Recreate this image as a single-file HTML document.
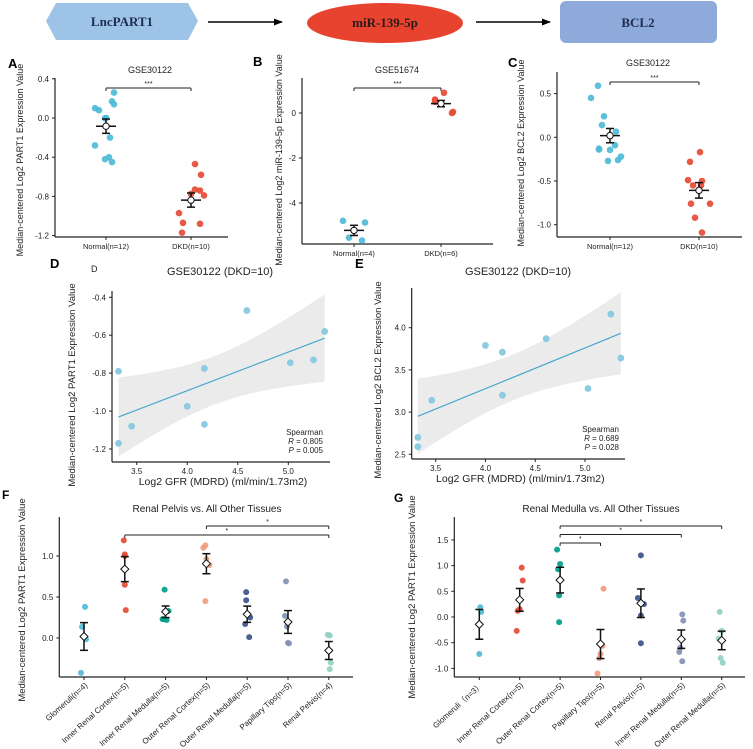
<!DOCTYPE html>
<html><head><meta charset="utf-8">
<style>
html,body{margin:0;padding:0;background:#fff;}
svg{display:block;font-family:"Liberation Sans",sans-serif;}
</style></head>
<body>
<svg id="fig" width="753" height="749" viewBox="0 0 753 749" xmlns="http://www.w3.org/2000/svg">
  <defs>
    <marker id="ah" viewBox="0 0 10 10" refX="9" refY="5" markerWidth="6" markerHeight="6" orient="auto"><path d="M0,1 L10,5 L0,9 z" fill="#000"/></marker>
  </defs>
  <g>
    <polygon points="46,21 56,3 188,3 198,21 188,40 56,40" fill="#9dc3e6"/>
    <text x="122" y="26" text-anchor="middle" font-family="Liberation Serif,serif" font-weight="bold" font-size="13" fill="#1f2d50">LncPART1</text>
    <line x1="208" y1="22" x2="282" y2="22" stroke="#000" stroke-width="1.5" marker-end="url(#ah)"/>
    <ellipse cx="385" cy="23" rx="78" ry="20" fill="#e8432f"/>
    <text x="385" y="27" text-anchor="middle" font-family="Liberation Serif,serif" font-weight="bold" font-size="13" fill="#2a1a1a">miR-139-5p</text>
    <line x1="476" y1="22" x2="550" y2="22" stroke="#000" stroke-width="1.5" marker-end="url(#ah)"/>
    <rect x="560" y="1" width="157" height="42" rx="6" fill="#8eaadb"/>
    <text x="638" y="27" text-anchor="middle" font-family="Liberation Serif,serif" font-weight="bold" font-size="13" fill="#1f2d50">BCL2</text>
  </g>
</svg>
<script>
// ---------- data ----------
const abCats = ["Normal(n=12)", "DKD(n=10)"];
const aNormal = [0.26,0.17,0.14,0.10,0.08,0.0,-0.003,-0.20,-0.28,-0.40,-0.42,-0.45];
const aDKD = [-0.47,-0.58,-0.73,-0.74,-0.79,-0.97,-1.07,-1.08,-1.17,-0.775];
const aJitN = [8,6,8,-11,-7,0,-1,4,-11,3,-1,6];
const aJitD = [4,10,4,9,13,-12,-8,9,-9,0];
const aTicks = [0.4,0.0,-0.4,-0.8,-1.2];

const bCats = ["Normal(n=4)", "DKD(n=6)"];
const bNormal = [-4.79,-4.87,-5.54,-5.67];
const bDKD = [0.9,0.6,0.5,0.45,0.05,0.0];
const bJitN = [-11,11,-5,8];
const bJitD = [3,-6,-6,0,12,11];
const bTicks = [0,-2,-4];

const cCats = ["Normal(n=12)", "DKD(n=10)"];
const cNormal = [0.59,0.45,0.24,0.14,0.065,-0.09,-0.13,-0.14,-0.145,-0.22,-0.26,-0.27];
const cDKD = [-0.17,-0.28,-0.49,-0.50,-0.55,-0.55,-0.76,-0.76,-0.92,-1.09];
const cJitN = [-12,-19,-6,-8,6,5,-11,-11,0,11,8,-2];
const cJitD = [1,-9,-11,3,-6,2,-8,11,-4,3];
const cTicks = [0.5,0.0,-0.5,-1.0];

const dX = [3.32,4.59,5.36,4.17,5.02,5.25,4.00,3.45,4.17,3.32];
const dY = [-0.79,-0.47,-0.58,-0.775,-0.745,-0.73,-0.975,-1.08,-1.07,-1.17];
const dXTicks = [3.5,4.0,4.5,5.0];
const dYTicks = [-0.4,-0.6,-0.8,-1.0,-1.2];

const eX = [3.32,3.32,3.46,4.00,4.17,4.17,4.61,5.03,5.26,5.36];
const eY = [2.70,2.59,3.14,3.79,3.71,3.20,3.87,3.28,4.16,3.64];
const eXTicks = [3.5,4.0,4.5,5.0];
const eYTicks = [4.0,3.5,3.0,2.5];

const fCats = ["Glomeruli(n=4)","Inner Renal Cortex(n=5)","Inner Renal Medulla(n=5)","Outer Renal Cortex(n=5)","Outer Renal Medulla(n=5)","Papillary Tips(n=5)","Renal Pelvis(n=4)"];
const fVals = [[0.38,0.135,-0.016,-0.425],[1.19,0.65,0.34,1.0,1.02],[0.59,0.33,0.23,0.22,0.23],[1.13,1.10,0.96,0.89,0.45],[0.56,0.46,0.25,0.17,0.01],[0.69,0.27,0.14,-0.06,-0.065],[0.04,0.03,-0.30,-0.38]];
const fJit = [[1,-2,2,-3],[-1,0,1,0,0],[-1,3,-2,1,-3],[-1,-3,0,3,-1],[-1,-1,3,-2,2],[-2,-3,-1,0,1],[-1,1,2,1]];
const fColors = ["#4dbbd5","#e64b35","#00a087","#f39b7f","#3c5488","#8491b4","#91d1c2"];
const fTicks = [1.0,0.5,0.0];

const gCats = ["Glomeruli\uff08n=3\uff09","Inner Renal Cortex(n=5)","Outer Renal Cortex(n=5)","Papillary Tips(n=5)","Renal Pelvis(n=5)","Inner Renal Medulla(n=5)","Outer Renal Medulla(n=5)"];
const gVals = [[0.19,0.10,-0.72],[0.96,0.71,0.15,0.12,-0.27],[1.31,1.03,0.93,0.42,-0.10],[0.55,-0.56,-0.72,-0.80,-1.10],[1.20,0.37,0.25,0.03,-0.51],[0.05,-0.07,-0.60,-0.68,-0.86],[0.10,-0.27,-0.42,-0.80,-0.89]];
const gJit = [[1,2,0],[2,3,0,-2,-3],[-3,0,-2,-1,-1],[3,2,0,-1,-3],[0,-3,3,0,0],[1,2,-1,-2,1],[-2,0,-3,-1,1]];
const gColors = ["#4dbbd5","#e64b35","#00a087","#f39b7f","#3c5488","#8491b4","#91d1c2"];
const gTicks = [1.5,1.0,0.5,0.0,-0.5,-1.0];

// ---------- helpers ----------
const svg = document.getElementById('fig');
const NS = 'http://www.w3.org/2000/svg';
function mk(tag, attrs, parent){
  const e = document.createElementNS(NS, tag);
  for (const k in attrs) e.setAttribute(k, attrs[k]);
  (parent||svg).appendChild(e);
  return e;
}
function txt(parent, x, y, s, size, anchor, name, extra){
  const t = mk('text', Object.assign({x:x, y:y, 'font-size':size, 'text-anchor':anchor||'middle', fill:'#222'}, extra||{}), parent);
  t.textContent = s;
  
  
  return t;
}
function line(parent, x1,y1,x2,y2, name, w, col){
  const l = mk('line', {x1:x1,y1:y1,x2:x2,y2:y2,stroke:col||'#222','stroke-width':w||1}, parent);
  
  
  return l;
}
function lin(d0, r0, d1, r1){ const k=(r1-r0)/(d1-d0); return v => r0 + (v-d0)*k; }
function meanSem(a){
  const n=a.length, m=a.reduce((s,v)=>s+v,0)/n;
  const sd=Math.sqrt(a.reduce((s,v)=>s+(v-m)*(v-m),0)/(n-1));
  return [m, sd/Math.sqrt(n)];
}
function panel(name){
  const g = mk('g', {});
  
  
  return g;
}
function yAxis(g, ax, yTop, yBot, ticks, ys, fmt){
  line(g, ax, yTop, ax, yBot, 'y-axis-line', 1.2);
  ticks.forEach(t => {
    line(g, ax-3, ys(t), ax, ys(t), 'y-tick', 1);
    txt(g, ax-6, ys(t)+3, fmt(t), 8, 'end', 'y-tick-label');
  });
}
function yTitle(g, x, y, s, size){
  txt(g, 0, 0, s, size||9, 'middle', 'y-axis-title', {transform:'translate('+x+','+y+') rotate(-90)'});
}
function groupMarks(g, cx, vals, jit, color, ys, diamond, r){
  vals.forEach((v,i) => {
    const c = mk('circle', {cx: cx + jit[i], cy: ys(v), r: r||3.3, fill: color, opacity: 0.92}, g);
    
    
  });
  const ms = meanSem(vals), m = ms[0], se = ms[1];
  line(g, cx, ys(m+se), cx, ys(m-se), 'error-bar', 1.5, '#111');
  line(g, cx-4, ys(m+se), cx+4, ys(m+se), 'error-cap-top', 1.5, '#111');
  line(g, cx-4, ys(m-se), cx+4, ys(m-se), 'error-cap-bottom', 1.5, '#111');
  if (!diamond) line(g, cx-10, ys(m), cx+10, ys(m), 'mean-line', 1.5, '#111');
  let mk2;
  if (diamond) {
    const y = ys(m);
    mk2 = mk('polygon', {points: (cx-4)+','+y+' '+cx+','+(y-4)+' '+(cx+4)+','+y+' '+cx+','+(y+4), fill:'#fff', stroke:'#111', 'stroke-width':1}, g);
  } else {
    mk2 = mk('circle', {cx: cx, cy: ys(m), r: 3.2, fill:'#fff', stroke:'#111', 'stroke-width':1}, g);
  }
  
  
}
function bracket(g, x1, x2, y, label){
  line(g, x1, y, x2, y, 'significance-bracket', 1);
  line(g, x1, y, x1, y+3, 'bracket-tick', 1);
  line(g, x2, y, x2, y+3, 'bracket-tick', 1);
  txt(g, (x1+x2)/2, y-2, label, 7, 'middle', 'significance-label');
}
function fmt1(t){ return t.toFixed(1); }

// ---------- two-group panels A,B,C ----------
function twoGroup(pname, letter, lx, ly, title, tx, ty, ax, axEnd, yTop, yBot, ys, ticks, fmt, cats, xs, g1, j1, g2, j2, brY, ytxt, ytx, yty){
  const g = panel(pname);
  txt(g, lx, ly, letter, 13, 'start', 'panel-label', {'font-weight':'bold', fill:'#000'});
  txt(g, tx, ty, title, 9, 'middle', 'chart-title');
  yAxis(g, ax, yTop, yBot, ticks, ys, fmt);
  line(g, ax, yBot, axEnd, yBot, 'x-axis-line', 1.2);
  cats.forEach((c,i) => {
    line(g, xs[i], yBot, xs[i], yBot+3, 'x-tick', 1);
    txt(g, xs[i], yBot+12, c, 7.5, 'middle', 'x-tick-label');
  });
  yTitle(g, ytx, yty, ytxt, 9);
  groupMarks(g, xs[0], g1, j1, '#4dbbd5', ys, false);
  groupMarks(g, xs[1], g2, j2, '#e64b35', ys, false);
  bracket(g, xs[0], xs[1], brY, '***');
}
twoGroup('panel-a','A',8,68,'GSE30122',150,73,55,228,78,237,lin(0,118,0.4,78.8),aTicks,fmt1,abCats,[106,191],aNormal,aJitN,aDKD,aJitD,88,'Median-centered Log2 PART1 Expression Value',23,160);
twoGroup('panel-b','B',253,66,'GSE51674',397,73,302,493,78,244,lin(0,113,-2,158),bTicks,t=>String(t),bCats,[354,441],bNormal,bJitN,bDKD,bJitD,88,'Median-centered Log2 miR-139-5p Expression Value',282,160);
twoGroup('panel-c','C',508,67,'GSE30122',648,66,557,742,72,237,lin(0,137.3,0.5,93.6),cTicks,fmt1,cCats,[610,699],cNormal,cJitN,cDKD,cJitD,82,'Median-centered Log2 BCL2 Expression Value',524,153);

// ---------- correlation panels D,E ----------
function corr(pname, letter, lx, ly, ax, axEnd, yTop, yBot, xs, ys, xT, yT, xv, yv, yfmt, title, tx, ty, ytxt, ytx, yty, rTxt, pTxt, sx, sy){
  const g = panel(pname);
  txt(g, lx, ly, letter, 13, 'start', 'panel-label', {'font-weight':'bold', fill:'#000'});
  txt(g, tx, ty, title, 11, 'middle', 'chart-title');
  // regression and CI band from data
  const n = xv.length;
  const mx = xv.reduce((s,v)=>s+v,0)/n, my = yv.reduce((s,v)=>s+v,0)/n;
  let sxx=0, sxy=0; xv.forEach((x,i)=>{ sxx+=(x-mx)*(x-mx); sxy+=(x-mx)*(yv[i]-my); });
  const b = sxy/sxx, a = my - b*mx;
  let sse=0; xv.forEach((x,i)=>{ const r=yv[i]-(a+b*x); sse+=r*r; });
  const s = Math.sqrt(sse/(n-2)), tq = 2.306;
  const x0 = Math.min(...xv), x1 = Math.max(...xv);
  const up=[], dn=[];
  for (let k=0;k<=40;k++){
    const x = x0 + (x1-x0)*k/40, yh = a+b*x;
    const w = tq*s*Math.sqrt(1/n + (x-mx)*(x-mx)/sxx);
    up.push(xs(x)+','+ys(yh+w)); dn.unshift(xs(x)+','+ys(yh-w));
  }
  const band = mk('polygon', {points: up.concat(dn).join(' '), fill:'#ebebeb'}, g);
  
  
  const rl = mk('line', {x1:xs(x0), y1:ys(a+b*x0), x2:xs(x1), y2:ys(a+b*x1), stroke:'#4aa8cf', 'stroke-width':1.2}, g);
  
  
  xv.forEach((x,i) => {
    const c = mk('circle', {cx:xs(x), cy:ys(yv[i]), r:3.4, fill:'#8ccbe0'}, g);
    
    
  });
  yAxis(g, ax, yTop, yBot, yT, ys, yfmt);
  line(g, ax, yBot, axEnd, yBot, 'x-axis-line', 1.2);
  xT.forEach(t => {
    line(g, xs(t), yBot, xs(t), yBot+3, 'x-tick', 1);
    txt(g, xs(t), yBot+12, t.toFixed(1), 8, 'middle', 'x-tick-label');
  });
  txt(g, (ax+axEnd)/2+2, yBot+23, 'Log2 GFR (MDRD) (ml/min/1.73m2)', 10.5, 'middle', 'x-axis-title');
  yTitle(g, ytx, yty, ytxt, 9.5);
  txt(g, sx, sy, 'Spearman', 8, 'end', 'stat-method');
  const r = txt(g, sx, sy+9, '', 8, 'end', 'stat-r');
  r.innerHTML = '<tspan font-style="italic">R</tspan> = ' + rTxt;
  const p = txt(g, sx, sy+18, '', 8, 'end', 'stat-p');
  p.innerHTML = '<tspan font-style="italic">P</tspan> = ' + pTxt;
  return g;
}
const gD = corr('panel-d','D',50,268,112,330,291,462,lin(3.5,136.7,5.0,288.3),lin(-0.4,297.3,-1.2,449),dXTicks,dYTicks,dX,dY,fmt1,'GSE30122 (DKD=10)',220,275,'Median-centered Log2 PART1 Expression Value',75,385,'0.805','0.005',323,435);
txt(gD, 91, 272, 'D', 9, 'start', 'panel-sublabel');
corr('panel-e','E',355,268,411.7,625,288,459,lin(3.5,435.7,5.0,585),lin(4.0,327.7,2.5,454.3),eXTicks,eYTicks,eX,eY,fmt1,'GSE30122 (DKD=10)',518,275,'Median-centered Log2 BCL2 Expression Value',381,380,'0.689','0.028',619,432);

// ---------- tissue panels F,G ----------
function tissue(pname, letter, lx, ly, title, tx, ax, axEnd, yTop, yBot, ys, ticks, cats, x0, dx, vals, jit, colors, brs, ytx, yty){
  const g = panel(pname);
  txt(g, lx, ly, letter, 12, 'start', 'panel-label', {'font-weight':'bold', fill:'#000'});
  txt(g, tx, 512, title, 10, 'middle', 'chart-title');
  yAxis(g, ax, yTop, yBot, ticks, ys, fmt1);
  line(g, ax, yBot, axEnd, yBot, 'x-axis-line', 1.2);
  cats.forEach((c,i) => {
    const cx = x0 + dx*i;
    line(g, cx, yBot, cx, yBot+3, 'x-tick', 1);
    txt(g, 0, 0, c, 8, 'end', 'x-tick-label', {transform:'translate('+(cx+4)+','+(yBot+9)+') rotate(-42)'});
    groupMarks(g, cx, vals[i], jit[i], colors[i], ys, true, 3);
  });
  brs.forEach(b => bracket(g, x0+dx*b[0], x0+dx*b[1], b[2], '*'));
  yTitle(g, ytx, yty, 'Median-centered Log2 PART1 Expression Value', 9.5);
}
tissue('panel-f','F',2,499,'Renal Pelvis vs. All Other Tissues',207,59.3,353,517,677,lin(0,638,0.5,597),fTicks,fCats,84,40.8,fVals,fJit,fColors,[[3,6,526],[1,6,535]],25,600);
tissue('panel-g','G',394,502,'Renal Medulla vs. All Other Tissues',601,454.3,745,517,677,lin(0,617,0.5,591.3),gTicks,gCats,479.3,40.4,gVals,gJit,gColors,[[2,6,526],[2,5,534.5],[2,3,543]],415,597);
</script>
</body></html>
